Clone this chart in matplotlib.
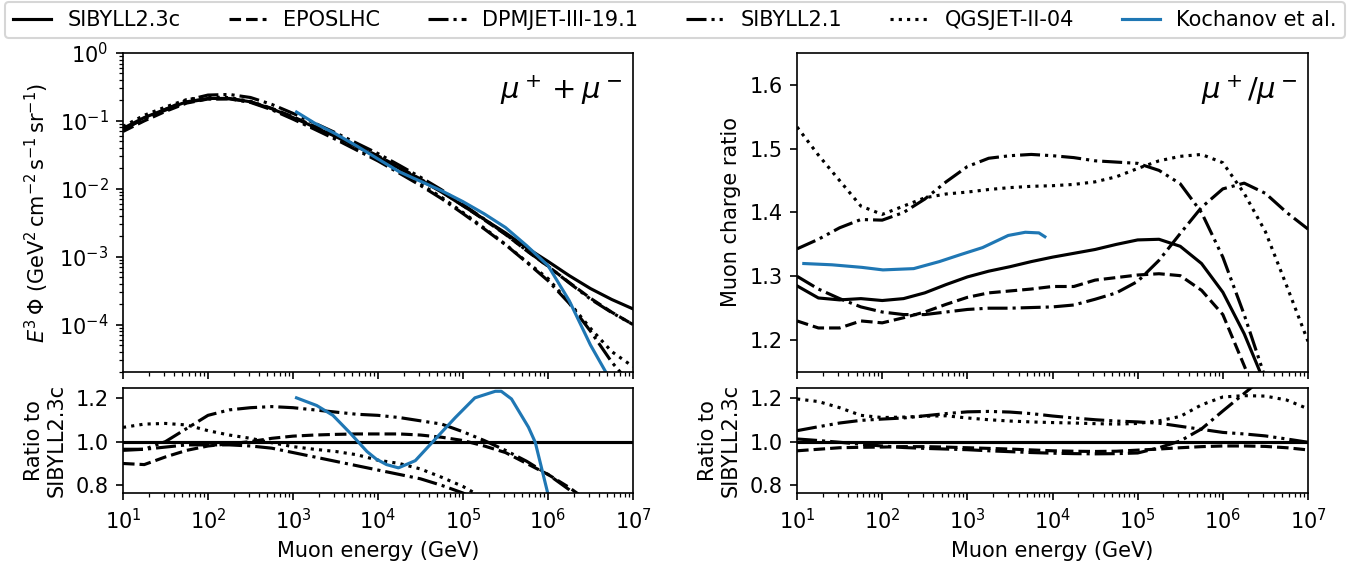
import numpy as np
import matplotlib
matplotlib.use('Agg')
import matplotlib.pyplot as plt

# energy grid (GeV), quarter decades from 1e1 to 1e7
energy = [1e1, 1.78e1, 3.16e1, 5.62e1, 1e2, 1.78e2, 3.16e2, 5.62e2,
          1e3, 1.78e3, 3.16e3, 5.62e3, 1e4, 1.78e4, 3.16e4, 5.62e4,
          1e5, 1.78e5, 3.16e5, 5.62e5, 1e6, 1.78e6, 3.16e6, 5.62e6, 1e7]

# E^3 flux (GeV^2 cm^-2 s^-1 sr^-1)
flux_sib23c = [0.0776, 0.112, 0.148, 0.191, 0.214, 0.214, 0.191, 0.151,
               0.112, 0.0813, 0.0589, 0.0417, 0.0295, 0.0200, 0.0135, 0.00891,
               0.00562, 0.00355, 0.00224, 0.00135, 0.000851, 0.000525, 0.000339, 0.000234, 0.000170]
flux_epos = [0.0698, 0.100, 0.138, 0.183, 0.210, 0.212, 0.191, 0.153,
             0.115, 0.0837, 0.0608, 0.0432, 0.0305, 0.0207, 0.0139, 0.00909,
             0.00565, 0.00348, 0.00213, 0.00122, 0.000723, 0.000415, 0.000244, 0.000152, 0.000100]
flux_dpmjet = [0.0749, 0.108, 0.144, 0.188, 0.211, 0.211, 0.187, 0.146,
               0.106, 0.0756, 0.0536, 0.0371, 0.0257, 0.0170, 0.0112, 0.00713,
               0.00430, 0.00256, 0.00150, 0.000824, 0.000443, 0.000205, 8.0e-5, 2.8e-5, 1.2e-5]
flux_sib21 = [0.0745, 0.108, 0.148, 0.202, 0.240, 0.245, 0.221, 0.175,
              0.129, 0.0931, 0.0669, 0.0469, 0.0330, 0.0222, 0.0148, 0.00962,
              0.00587, 0.00357, 0.00215, 0.00123, 0.000723, 0.000410, 0.000237, 0.000150, 0.000100]
flux_qgsjet = [0.0826, 0.121, 0.160, 0.206, 0.225, 0.220, 0.194, 0.150,
               0.109, 0.0785, 0.0562, 0.0392, 0.0270, 0.0180, 0.0118, 0.00746,
               0.00447, 0.00263, 0.00152, 0.000837, 0.000477, 0.000210, 8.8e-5, 4.0e-5, 2.4e-5]

# flux ratio to SIBYLL2.3c
ratio_sib23c = [1.0] * 25
ratio_epos = [0.90, 0.895, 0.93, 0.96, 0.98, 0.99, 1.00, 1.015, 1.025, 1.03, 1.033, 1.035,
              1.035, 1.035, 1.03, 1.02, 1.005, 0.98, 0.95, 0.90, 0.85, 0.79, 0.72, 0.65, 0.59]
ratio_dpmjet = [0.965, 0.965, 0.975, 0.985, 0.985, 0.985, 0.98, 0.97, 0.95, 0.93, 0.91, 0.89,
                0.87, 0.85, 0.83, 0.80, 0.765, 0.72, 0.67, 0.61, 0.52, 0.38, 0.22, 0.10, 0.05]
ratio_sib21 = [0.96, 0.965, 1.0, 1.06, 1.12, 1.145, 1.155, 1.16, 1.155, 1.145, 1.135, 1.125,
               1.12, 1.11, 1.095, 1.08, 1.045, 1.005, 0.96, 0.91, 0.85, 0.78, 0.70, 0.64, 0.59]
ratio_qgsjet = [1.065, 1.08, 1.083, 1.076, 1.05, 1.03, 1.015, 0.995, 0.977, 0.965, 0.955, 0.94,
                0.915, 0.9, 0.875, 0.837, 0.795, 0.74, 0.68, 0.62, 0.56, 0.40, 0.26, 0.17, 0.14]

# muon charge ratio mu+/mu-
charge_sib23c = [1.285, 1.266, 1.263, 1.265, 1.262, 1.265, 1.274, 1.287, 1.299, 1.308, 1.315, 1.323,
                 1.330, 1.336, 1.342, 1.350, 1.357, 1.358, 1.347, 1.32, 1.275, 1.21, 1.13, 1.05, 0.97]
charge_epos = [1.23, 1.219, 1.219, 1.23, 1.227, 1.235, 1.244, 1.256, 1.267, 1.274, 1.277, 1.28,
               1.284, 1.284, 1.294, 1.298, 1.302, 1.304, 1.301, 1.278, 1.24, 1.16, 1.08, 1.0, 0.92]
charge_dpmjet = [1.30, 1.28, 1.265, 1.252, 1.244, 1.24, 1.24, 1.244, 1.248, 1.25, 1.25, 1.251,
                 1.252, 1.255, 1.264, 1.274, 1.292, 1.325, 1.367, 1.408, 1.437, 1.446, 1.43, 1.40, 1.374]
charge_sib21 = [1.343, 1.358, 1.376, 1.389, 1.388, 1.40, 1.421, 1.448, 1.472, 1.485, 1.489, 1.491,
                1.489, 1.486, 1.481, 1.479, 1.477, 1.466, 1.445, 1.40, 1.33, 1.24, 1.14, 1.04, 0.94]
charge_qgsjet = [1.534, 1.49, 1.45, 1.41, 1.397, 1.41, 1.423, 1.429, 1.432, 1.436, 1.439, 1.441,
                 1.442, 1.444, 1.448, 1.456, 1.469, 1.481, 1.488, 1.491, 1.478, 1.43, 1.37, 1.285, 1.198]

# charge ratio relative to SIBYLL2.3c
cratio_sib23c = [1.0] * 25
cratio_epos = [0.958, 0.965, 0.972, 0.974, 0.975, 0.977, 0.977, 0.975, 0.972, 0.969, 0.966, 0.962,
               0.958, 0.956, 0.955, 0.956, 0.961, 0.966, 0.972, 0.977, 0.98, 0.98, 0.978, 0.972, 0.962]
cratio_dpmjet = [1.012, 1.005, 0.997, 0.988, 0.98, 0.973, 0.969, 0.966, 0.963, 0.958, 0.954, 0.95,
                 0.947, 0.945, 0.944, 0.945, 0.948, 0.972, 1.003, 1.058, 1.14, 1.22, 1.30, 1.36, 1.40]
cratio_sib21 = [1.05, 1.068, 1.085, 1.097, 1.103, 1.108, 1.118, 1.128, 1.136, 1.138, 1.135, 1.128,
                1.117, 1.108, 1.10, 1.094, 1.09, 1.084, 1.07, 1.056, 1.042, 1.035, 1.026, 1.012, 0.997]
cratio_qgsjet = [1.195, 1.183, 1.155, 1.12, 1.11, 1.112, 1.116, 1.118, 1.108, 1.10, 1.094, 1.09,
                 1.087, 1.085, 1.082, 1.08, 1.083, 1.095, 1.115, 1.168, 1.204, 1.21, 1.208, 1.19, 1.15]

# Kochanov et al.
koch_flux_energy = [1.1e3, 1.78e3, 3.16e3, 5.62e3, 1e4, 1.78e4, 3.16e4, 5.62e4,
                    1e5, 1.78e5, 3.16e5, 5.62e5, 1e6, 1.78e6, 3.16e6, 5.62e6]
koch_flux = [0.135, 0.0933, 0.0646, 0.0427, 0.0275, 0.0178, 0.0129, 0.00933,
             0.00646, 0.00427, 0.00269, 0.00145, 0.00074, 0.000224, 5.0e-5, 1.4e-5]
koch_ratio_energy = [1.1e3, 1.9e3, 2.95e3, 4.68e3, 7.41e3, 9.55e3, 1.26e4, 1.74e4, 2.75e4, 4.68e4,
                     8.13e4, 1.38e5, 1.82e5, 2.4e5, 2.82e5, 3.72e5, 5.89e5, 7.08e5, 1.0e6, 1.1e6]
koch_ratio = [1.2, 1.165, 1.12, 1.04, 0.955, 0.92, 0.895, 0.88, 0.913, 1.01,
              1.11, 1.2, 1.215, 1.23, 1.23, 1.195, 1.066, 0.997, 0.76, 0.6]
koch_charge_energy = [12, 25.7, 57.5, 102, 234, 468, 832, 1510, 3020, 4790, 6920, 8130]
koch_charge = [1.32, 1.318, 1.314, 1.31, 1.312, 1.323, 1.334, 1.345, 1.364, 1.369, 1.368, 1.362]

models = ['SIBYLL2.3c', 'EPOSLHC', 'DPMJET-III-19.1', 'SIBYLL2.1', 'QGSJET-II-04']
styles = ['-', '--', '-.', (0, (6.4, 1.6, 1, 1.6, 1, 1.6)), ':']

fluxes = [flux_sib23c, flux_epos, flux_dpmjet, flux_sib21, flux_qgsjet]
ratios = [ratio_sib23c, ratio_epos, ratio_dpmjet, ratio_sib21, ratio_qgsjet]
charges = [charge_sib23c, charge_epos, charge_dpmjet, charge_sib21, charge_qgsjet]
cratios = [cratio_sib23c, cratio_epos, cratio_dpmjet, cratio_sib21, cratio_qgsjet]

BLUE = '#1f77b4'


def setup_xaxis(ax, show_labels):
    ax.set_xscale('log')
    ax.set_xlim(1e1, 1e7)
    ax.set_xticks([1e1, 1e2, 1e3, 1e4, 1e5, 1e6, 1e7])
    if not show_labels:
        ax.tick_params(labelbottom=False)
    else:
        ax.set_xlabel('Muon energy (GeV)')


def main():
    fig = plt.figure(figsize=(9.04, 3.7867), dpi=150)

    ax_flux = fig.add_axes([0.0907, 0.3451, 0.3761, 0.5616])
    ax_fr = fig.add_axes([0.0907, 0.1320, 0.3761, 0.1849])
    ax_ch = fig.add_axes([0.5878, 0.3451, 0.3768, 0.5616])
    ax_cr = fig.add_axes([0.5878, 0.1320, 0.3768, 0.1849])

    handles = []
    for name, ls, fl, r, ch, cr in zip(models, styles, fluxes, ratios, charges, cratios):
        h, = ax_flux.plot(energy, fl, color='k', linestyle=ls, label=name)
        ax_fr.plot(energy, r, color='k', linestyle=ls)
        ax_ch.plot(energy, ch, color='k', linestyle=ls)
        ax_cr.plot(energy, cr, color='k', linestyle=ls)
        handles.append(h)

    h, = ax_flux.plot(koch_flux_energy, koch_flux, color=BLUE, label='Kochanov et al.')
    handles.append(h)
    ax_fr.plot(koch_ratio_energy, koch_ratio, color=BLUE)
    ax_ch.plot(koch_charge_energy, koch_charge, color=BLUE)

    # flux panel
    ax_flux.set_yscale('log')
    ax_flux.set_ylim(2e-5, 1)
    ax_flux.set_ylabel(r'$E^3\,\Phi$ (GeV$^2\,$cm$^{-2}\,$s$^{-1}\,$sr$^{-1}$)')
    ax_flux.text(0.98, 0.885, r'$\mu^+ + \mu^-$', transform=ax_flux.transAxes,
                 ha='right', va='center', fontsize=14)
    setup_xaxis(ax_flux, False)

    # charge ratio panel
    ax_ch.set_ylim(1.15, 1.65)
    ax_ch.set_yticks([1.2, 1.3, 1.4, 1.5, 1.6])
    ax_ch.set_ylabel('Muon charge ratio')
    ax_ch.text(0.98, 0.885, r'$\mu^+/\mu^-$', transform=ax_ch.transAxes,
               ha='right', va='center', fontsize=14)
    setup_xaxis(ax_ch, False)

    for ax in (ax_fr, ax_cr):
        ax.set_ylim(0.765, 1.245)
        ax.set_yticks([0.8, 1.0, 1.2])
        ax.set_ylabel('Ratio to\nSIBYLL2.3c')
        setup_xaxis(ax, True)

    fig.legend(handles=handles, loc='upper left', bbox_to_anchor=(0.0037, 0.0, 0.9882, 0.997),
               mode='expand', borderaxespad=0.0, ncol=6, handlelength=1.8)

    fig.savefig('out.png', dpi=150)


if __name__ == "__main__":
    main()
